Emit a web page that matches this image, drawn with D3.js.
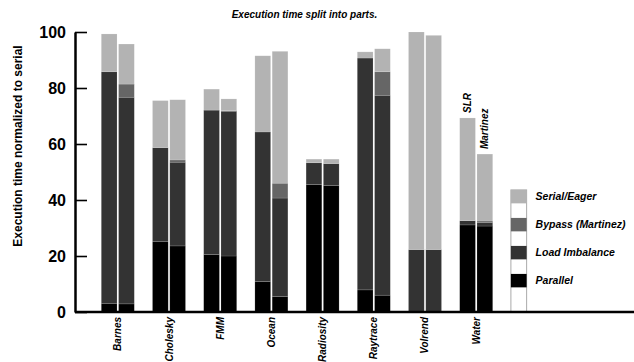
<!DOCTYPE html>
<html>
<head>
<meta charset="utf-8">
<script src="https://cdn.jsdelivr.net/npm/d3@7/dist/d3.min.js"></script>
<style>
  html, body { margin: 0; padding: 0; background: #fff; }
  svg { display: block; font-family: "Liberation Sans", Arial, Helvetica, sans-serif; }
</style>
</head>
<body>
<svg id="chart" width="634" height="362"></svg>
<script>
// Applications (x categories)
const categories = ["Barnes", "Cholesky", "FMM", "Ocean", "Radiosity", "Raytrace", "Volrend", "Water"];
// Two bars per application
const variants = ["SLR", "Martinez"];
// Stack parts, bottom to top
const parts = ["Parallel", "Load Imbalance", "Bypass (Martinez)", "Serial/Eager"];
const partColors = ["#000000", "#333333", "#666666", "#b3b3b3"];

// SLR bar: execution time parts (% of serial)
const slrParallel = [3.1, 25.1, 20.5, 10.9, 45.5, 7.9, 0.0, 31.1];
const slrLoad     = [82.7, 33.6, 51.6, 53.4, 7.8, 82.8, 22.3, 1.5];
const slrBypass   = [0, 0, 0, 0, 0, 0, 0, 0];
const slrSerial   = [13.5, 16.8, 7.5, 27.2, 1.3, 2.2, 77.7, 36.7];

// Martinez bar: execution time parts (% of serial)
const mtzParallel = [2.9, 23.6, 20.0, 5.5, 45.2, 6.0, 0.0, 30.7];
const mtzLoad     = [73.8, 29.9, 51.7, 35.2, 7.8, 71.4, 22.3, 1.3];
const mtzBypass   = [4.7, 0.8, 0.2, 5.3, 0.0, 8.4, 0.0, 0.5];
const mtzSerial   = [14.3, 21.5, 4.2, 47.1, 1.6, 8.2, 76.5, 23.9];

const yTicks = [0, 20, 40, 60, 80, 100];

const svg = d3.select("#chart");
const W = 634;

// Build one row per bar for d3.stack
const series = {
  SLR: [slrParallel, slrLoad, slrBypass, slrSerial],
  Martinez: [mtzParallel, mtzLoad, mtzBypass, mtzSerial]
};
const rows = [];
categories.forEach((c, i) => {
  variants.forEach(v => {
    const r = { app: c, variant: v };
    parts.forEach((p, k) => { r[p] = series[v][k][i]; });
    rows.push(r);
  });
});
const stacked = d3.stack().keys(parts)(rows);

// Scales: one slot per application plus a slot for the legend column
const x = d3.scaleBand()
  .domain([...categories, "legend"])
  .range([75, 570.2])
  .paddingInner(0.3555)
  .paddingOuter(0.5137);
const xInner = d3.scaleBand()
  .domain(variants)
  .range([0, x.bandwidth()])
  .paddingInner(0.09);
const y = d3.scaleLinear().domain([0, 100]).range([312, 32]);

// Title
svg.append("text")
  .attr("x", 304.5).attr("y", 17.5)
  .attr("text-anchor", "middle")
  .style("font-size", "10px").style("font-weight", "bold").style("font-style", "italic")
  .text("Execution time split into parts.");

// Y axis title
svg.append("text")
  .attr("transform", "translate(21.5,146) rotate(-90)")
  .attr("text-anchor", "middle")
  .style("font-size", "12px").style("font-weight", "bold")
  .text("Execution time normalized to serial");

// Bars
const layer = svg.append("g");
stacked.forEach((s, k) => {
  layer.append("g").attr("fill", partColors[k])
    .selectAll("rect")
    .data(s.filter(d => d[1] - d[0] > 0))
    .join("rect")
    .attr("x", d => x(d.data.app) + xInner(d.data.variant))
    .attr("width", xInner.bandwidth())
    .attr("y", d => y(d[1]))
    .attr("height", d => y(d[0]) - y(d[1]))
    .attr("stroke", "rgba(255,255,255,0.22)")
    .attr("stroke-width", 0.6);
});

// SLR / Martinez labels over the Water bars
const lastApp = categories[categories.length - 1];
const lastIdx = categories.length - 1;
variants.forEach(v => {
  const arr = series[v];
  const top = arr.reduce((sum, a) => sum + a[lastIdx], 0);
  const cx = x(lastApp) + xInner(v) + xInner.bandwidth() / 2;
  svg.append("text")
    .attr("transform", `translate(${cx + 3.5},${y(top) - 5}) rotate(-90)`)
    .attr("text-anchor", "start")
    .style("font-size", "10px").style("font-weight", "bold").style("font-style", "italic")
    .text(v);
});

// Y axis
const yAxis = svg.append("g")
  .attr("transform", "translate(75,0)")
  .call(d3.axisLeft(y).tickValues(yTicks).tickSize(-12).tickSizeOuter(0).tickPadding(9));
yAxis.select(".domain").attr("stroke-width", 2.5);
yAxis.selectAll(".tick line").attr("stroke-width", 1.6);
yAxis.selectAll(".tick text")
  .style("font-size", "16px").style("font-weight", "bold")
  .style("font-family", "'Liberation Sans', Arial, sans-serif");

// X axis labels (rotated)
const xAxis = svg.append("g")
  .attr("transform", "translate(0,312)")
  .call(d3.axisBottom(x).tickValues(categories).tickSize(0));
xAxis.select(".domain").remove();
xAxis.selectAll(".tick text")
  .attr("transform", "rotate(-90)")
  .attr("x", -5).attr("y", 0).attr("dy", "0.35em")
  .style("text-anchor", "end")
  .style("font-size", "10px").style("font-weight", "bold").style("font-style", "italic")
  .style("font-family", "'Liberation Sans', Arial, sans-serif");

// Legend drawn as a column in the last slot
const lx = x("legend") + xInner("SLR");
const lw = xInner.bandwidth();
const swatchLo = 8.8, swatchHi = 13.6, swatchStep = 10;
const legendTop = y(swatchHi + swatchStep * (parts.length - 1));
const lg = svg.append("g");
lg.append("rect")
  .attr("x", lx).attr("y", legendTop)
  .attr("width", lw).attr("height", y(0) - legendTop)
  .attr("fill", "#fff").attr("stroke", "#aaa").attr("stroke-width", 1);
parts.forEach((p, k) => {
  const y1 = y(swatchHi + swatchStep * k), y0 = y(swatchLo + swatchStep * k);
  lg.append("rect")
    .attr("x", lx).attr("y", y1)
    .attr("width", lw).attr("height", y0 - y1)
    .attr("fill", partColors[k]);
  lg.append("text")
    .attr("x", lx + lw + 9).attr("y", (y0 + y1) / 2)
    .attr("dy", "0.35em")
    .style("font-size", "10.5px").style("font-weight", "bold").style("font-style", "italic")
    .text(p);
});

// X axis baseline across the full width
svg.append("line")
  .attr("x1", 75).attr("x2", W)
  .attr("y1", y(0)).attr("y2", y(0))
  .attr("stroke", "#000").attr("stroke-width", 2.5);
</script>
</body>
</html>
